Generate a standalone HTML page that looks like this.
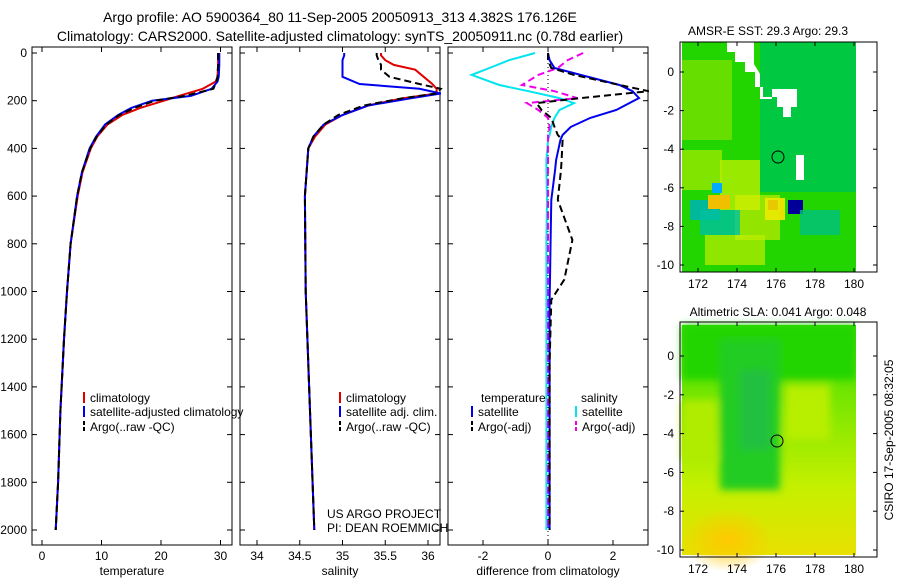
<!DOCTYPE html>
<html><head><meta charset="utf-8"><style>
body{margin:0;background:#fff;width:900px;height:580px;overflow:hidden}
svg text{font-family:"Liberation Sans",sans-serif;fill:#000}
</style></head><body>
<svg id="fig" width="900" height="580" xmlns="http://www.w3.org/2000/svg">
<defs>
<linearGradient id="slaL" x1="0" y1="0" x2="0" y2="1"><stop offset="0" stop-color="#33dd00"/><stop offset="0.4" stop-color="#88e800"/><stop offset="0.7" stop-color="#c4f000"/><stop offset="1" stop-color="#e8e000"/></linearGradient>
<radialGradient id="slaO" cx="0.5" cy="0.5" r="0.5"><stop offset="0" stop-color="#ffc800"/><stop offset="1" stop-color="#ffc800" stop-opacity="0"/></radialGradient>
<filter id="bl"><feGaussianBlur stdDeviation="4"/></filter>
</defs>
<text x="340" y="22" font-size="14" text-anchor="middle">Argo profile: AO 5900364_80 11-Sep-2005 20050913_313 4.382S 176.126E</text>
<text x="340" y="41" font-size="14" text-anchor="middle">Climatology: CARS2000. Satellite-adjusted climatology: synTS_20050911.nc (0.78d earlier)</text>
<g id="p1"></g>
<g id="p2"></g>
<g id="p3"></g>
<g id="m1">
<text x="768" y="35" font-size="12" text-anchor="middle">AMSR-E SST: 29.3  Argo: 29.3</text>
<rect x="682" y="42" width="174" height="230" fill="#22d400"/>
<rect x="760" y="42" width="96" height="150" fill="#00c840"/>
<rect x="682" y="60" width="50" height="80" fill="#77e000" opacity="0.8"/>
<rect x="682" y="150" width="40" height="40" fill="#99e600" opacity="0.8"/>
<rect x="720" y="160" width="40" height="50" fill="#b8ee00" opacity="0.8"/>
<rect x="690" y="200" width="30" height="20" fill="#00b89a"/>
<rect x="708" y="195" width="22" height="14" fill="#f0c000"/>
<rect x="765" y="198" width="20" height="22" fill="#e8e000"/>
<rect x="768" y="200" width="10" height="10" fill="#f09000"/>
<rect x="788" y="200" width="15" height="14" fill="#000099"/>
<rect x="712" y="183" width="10" height="10" fill="#00aaff"/>
<rect x="735" y="195" width="45" height="45" fill="#e0f000" opacity="0.6"/>
<rect x="700" y="210" width="40" height="25" fill="#00c0a0" opacity="0.8"/>
<rect x="800" y="210" width="40" height="25" fill="#00c080" opacity="0.8"/>
<rect x="705" y="235" width="60" height="30" fill="#c0ee00" opacity="0.7"/>
<path d="M727 42 h27 v22 l6 10 v25 l12 0 v-10 h25 v18 h-6 v10 h-8 v-10 h-6 v-10 h-14 v-10 h-8 v-15 h-10 v-10 h-10 v-10 h-8 z" fill="#fff"/>
<rect x="796" y="155" width="8" height="25" fill="#fff"/>
<rect x="856" y="42" width="21" height="230" fill="#fff"/>
<circle cx="778" cy="157" r="6" fill="none" stroke="#000"/>
<rect x="680" y="42" width="197" height="230" fill="none" stroke="#000"/>
</g>
<g id="m2">
<text x="778" y="316" font-size="12" text-anchor="middle">Altimetric SLA: 0.041  Argo: 0.048</text>
<rect x="682" y="325" width="174" height="230" fill="url(#slaL)"/>
<g filter="url(#bl)">
<rect x="682" y="325" width="174" height="55" fill="#22d400"/>
<rect x="720" y="340" width="60" height="150" fill="#22cc22"/>
<rect x="740" y="370" width="30" height="80" fill="#20c040"/>
<rect x="785" y="385" width="45" height="55" fill="#b8ee00"/>
<rect x="682" y="400" width="35" height="60" fill="#b0ec00"/>
</g>
<ellipse cx="728" cy="540" rx="45" ry="32" fill="url(#slaO)"/>
<rect x="856" y="322" width="21" height="235" fill="#fff"/>
<circle cx="777" cy="441" r="6" fill="none" stroke="#000"/>
<rect x="680" y="322" width="197" height="235" fill="none" stroke="#000"/>
</g>
<text transform="translate(893,440) rotate(-90)" font-size="12" text-anchor="middle">CSIRO 17-Sep-2005 08:32:05</text>
</svg>
<script>
// ---- data ----
const depthTicks=[0,200,400,600,800,1000,1200,1400,1600,1800,2000];
const tempTicks=[0,10,20,30];
const salTicks=[34,34.5,35,35.5,36];
const salTickLabels=["34","34.5","35","35.5","36"];
const diffTicks=[-2,0,2];
const tempDepth=[0,50,100,120,150,180,200,230,260,300,350,400,500,600,800,1000,1200,1500,1800,2000];
const tempClim=[29.6,29.6,29.5,29.2,27,23,20.5,16.5,13.5,11,9.3,8.2,6.8,6.0,4.8,4.2,3.7,3.1,2.7,2.3];
const tempSat=[29.8,29.8,29.7,29.5,28.5,25,18.5,15,12.8,10.6,9.1,8.0,6.7,5.9,4.8,4.2,3.7,3.1,2.7,2.3];
const tempArgo=[29.6,29.6,29.5,29.3,28.8,24,19,15.5,13,10.8,9.2,8.1,6.7,5.9,4.8,4.2,3.7,3.1,2.7,2.3];
const salDepth=[0,10,30,50,70,100,130,150,170,190,220,260,300,350,400,600,1000,1500,2000];
const salClim=[35.45,35.45,35.5,35.6,35.85,35.95,36.05,36.1,36.1,35.7,35.3,35.0,34.8,34.68,34.6,34.56,34.57,34.62,34.67];
const salSat=[35.02,35.02,35.0,35.0,35.0,35.0,35.2,35.9,36.15,35.8,35.3,35.0,34.78,34.66,34.6,34.56,34.57,34.62,34.67];
const salArgo=[35.4,35.4,35.42,35.45,35.45,35.55,35.9,36.15,36.1,35.7,35.25,34.95,34.78,34.66,34.6,34.56,34.57,34.62,34.67];
const dDepth=[0,30,63,92,134,160,189,210,239,272,310,344,365,449,490,616,784,950,1035,1300,2000];
const dTempSat=[0,0.05,0.2,1.0,2.2,2.6,2.8,2.5,2.1,1.3,0.7,0.45,0.38,0.25,0.22,0.1,0.08,0.06,0.05,0.05,0.05];
const dTempArgo=[0,0,0.1,0.8,2.2,3.1,1.0,-0.35,-0.2,0.1,0.2,0.3,0.45,0.42,0.4,0.3,0.75,0.5,0.1,0.05,0.05];
const dSalSat=[-0.4,-1.2,-1.8,-2.35,-1.5,-0.6,0.35,0.8,0.35,0.2,0.1,0.05,0.0,-0.05,-0.05,-0.03,-0.05,-0.05,-0.05,-0.05,-0.05];
const dSalArgo=[1.08,0.6,0.3,-0.3,-0.8,0.2,0.9,-0.65,-0.3,0.0,0.05,0.0,0.0,0.0,0.0,0.0,0.0,0.0,0.0,0.0,0.0];
const mapLon=[172,174,176,178,180];
const mapLat=[0,-2,-4,-6,-8,-10];
// ---- drawing ----
const NS="http://www.w3.org/2000/svg";
function mk(p,t,a){const e=document.createElementNS(NS,t);for(const k in a)e.setAttribute(k,a[k]);p.appendChild(e);return e;}
const yD=d=>53+0.2385*d;
function panel(g,x0,w,xs,ticks,labels,xlabel,series,legend){
  const fr=mk(g,'rect',{x:x0,y:47,width:w,height:498,fill:'none',stroke:'#000'});
  
  ticks.forEach((v,i)=>{const x=xs(v);
    mk(g,'line',{x1:x,x2:x,y1:47,y2:52,stroke:'#000'});mk(g,'line',{x1:x,x2:x,y1:540,y2:545,stroke:'#000'});
    const t=mk(g,'text',{x:x,y:560,'font-size':12,'text-anchor':'middle'});t.textContent=labels[i];
    });
  depthTicks.forEach(d=>{const y=yD(d);mk(g,'line',{x1:x0,x2:x0+5,y1:y,y2:y,stroke:'#000'});mk(g,'line',{x1:x0+w-5,x2:x0+w,y1:y,y2:y,stroke:'#000'});});
  const xl=mk(g,'text',{x:x0+w/2,y:575,'font-size':12,'text-anchor':'middle'});xl.textContent=xlabel;
  
  series.forEach(s=>{const pts=s.d.map((d,i)=>xs(s.v[i]).toFixed(1)+','+yD(d).toFixed(1)).join(' ');
    const pl=mk(g,'polyline',{points:pts,fill:'none',stroke:s.c,'stroke-width':2,'stroke-dasharray':s.dash||'none'});
    });
  legend.forEach(l=>{mk(g,'line',{x1:l.x,x2:l.x,y1:l.y-10,y2:l.y+1,stroke:l.c,'stroke-width':2,'stroke-dasharray':l.dash||'none'});
    const t=mk(g,'text',{x:l.x+6,y:l.y,'font-size':12});t.textContent=l.t;
    });
}
const g1=document.getElementById('p1'),g2=document.getElementById('p2'),g3=document.getElementById('p3');
depthTicks.forEach(d=>{const t=mk(g1,'text',{x:27,y:yD(d)+4,'font-size':12,'text-anchor':'end'});t.textContent=d;
  });
panel(g1,32,200,v=>42+5.95*v,tempTicks,tempTicks.map(String),'temperature',
 [{d:tempDepth,v:tempClim,c:'#e00000',n:'temp-climatology-line'},{d:tempDepth,v:tempSat,c:'#0000ee',n:'temp-satellite-line'},{d:tempDepth,v:tempArgo,c:'#000',dash:'7,4',n:'temp-argo-line'}],
 [{x:84,y:402,c:'#e00000',t:'climatology'},{x:84,y:416,c:'#0000ee',t:'satellite-adjusted climatology'},{x:84,y:431,c:'#000',dash:'4,2',t:'Argo(..raw -QC)'}]);
panel(g2,240,200,v=>257+85.5*(v-34),salTicks,salTickLabels,'salinity',
 [{d:salDepth,v:salClim,c:'#e00000',n:'sal-climatology-line'},{d:salDepth,v:salSat,c:'#0000ee',n:'sal-satellite-line'},{d:salDepth,v:salArgo,c:'#000',dash:'7,4',n:'sal-argo-line'}],
 [{x:340,y:402,c:'#e00000',t:'climatology'},{x:340,y:416,c:'#0000ee',t:'satellite adj. clim.'},{x:340,y:431,c:'#000',dash:'4,2',t:'Argo(..raw -QC)'}]);
[['US ARGO PROJECT',518],['PI: DEAN ROEMMICH',532]].forEach(a=>{const t=mk(g2,'text',{x:327,y:a[1],'font-size':12});t.textContent=a[0];
  });
const xs3=v=>548+32.5*v;
mk(g3,'line',{x1:xs3(0),x2:xs3(0),y1:47,y2:545,stroke:'#000','stroke-dasharray':'1,3'});
panel(g3,448,200,xs3,diffTicks,diffTicks.map(String),'difference from climatology',
 [{d:dDepth,v:dSalSat,c:'#00e5ee',n:'sal-diff-satellite-line'},{d:dDepth,v:dSalArgo,c:'#ee00ee',dash:'7,4',n:'sal-diff-argo-line'},{d:dDepth,v:dTempSat,c:'#0000ee',n:'temp-diff-satellite-line'},{d:dDepth,v:dTempArgo,c:'#000',dash:'7,4',n:'temp-diff-argo-line'}],
 [{x:472,y:416,c:'#0000ee',t:'satellite'},{x:472,y:431,c:'#000',dash:'4,2',t:'Argo(-adj)'},{x:576,y:416,c:'#00e5ee',t:'satellite'},{x:576,y:431,c:'#ee00ee',dash:'4,2',t:'Argo(-adj)'}]);
[['temperature',481],['salinity',581]].forEach(a=>{const t=mk(g3,'text',{x:a[1],y:402,'font-size':12});t.textContent=a[0];
  });
// map axes
function mapAxes(g,top,bot,y0,dy){
  mapLon.forEach(v=>{const x=698+19.5*(v-172);mk(g,'line',{x1:x,x2:x,y1:bot,y2:bot-4,stroke:'#000'});mk(g,'line',{x1:x,x2:x,y1:top,y2:top+4,stroke:'#000'});
    const t=mk(g,'text',{x:x,y:bot+16,'font-size':12,'text-anchor':'middle'});t.textContent=v;
    });
  mapLat.forEach(v=>{const y=y0-dy*v;mk(g,'line',{x1:680,x2:684,y1:y,y2:y,stroke:'#000'});mk(g,'line',{x1:873,x2:877,y1:y,y2:y,stroke:'#000'});
    const t=mk(g,'text',{x:674,y:y+4,'font-size':12,'text-anchor':'end'});t.textContent=v;
    });
}
mapAxes(document.getElementById('m1'),42,272,72,19.3);
mapAxes(document.getElementById('m2'),322,557,356,19.4);
</script>
</body></html>
